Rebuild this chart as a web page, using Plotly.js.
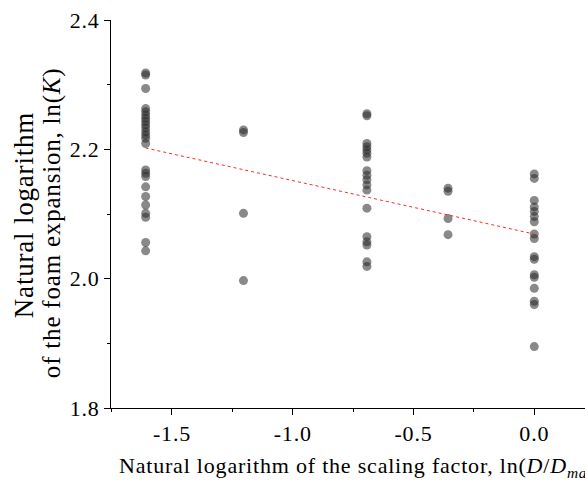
<!DOCTYPE html>
<html>
<head>
<meta charset="utf-8">
<script src="https://cdn.plot.ly/plotly-3.0.1.min.js"></script>
<style>
html,body{margin:0;padding:0;background:#fff;}
#chart{width:585px;height:488px;}
svg text{letter-spacing:0.8px;}
</style>
</head>
<body>
<div id="chart"></div>
<script>
// Scaling factor ln(D/Dmax) groups
const xGroups = [-1.609, -1.204, -0.693, -0.357, 0];
// ln(K) values per group
const yG1 = [2.318, 2.315, 2.294, 2.263, 2.258, 2.253, 2.248, 2.243, 2.238, 2.233, 2.227, 2.222, 2.217, 2.209,
             2.168, 2.163, 2.158, 2.142, 2.127, 2.114, 2.101, 2.095, 2.056, 2.043];
const yG2 = [2.230, 2.226, 2.101, 1.997];
const yG3 = [2.255, 2.252, 2.209, 2.204, 2.199, 2.194, 2.188, 2.167, 2.160, 2.153, 2.145, 2.137, 2.109,
             2.065, 2.057, 2.052, 2.026, 2.019];
const yG4 = [2.140, 2.135, 2.093, 2.068];
const yG5 = [2.162, 2.155, 2.121, 2.111, 2.104, 2.096, 2.088, 2.069, 2.062, 2.034, 2.030, 2.006, 2.002,
             1.985, 1.965, 1.960, 1.895];
// Linear fit line
const fitX = [-1.609, 0];
const fitY = [2.202, 2.069];
// Tick labels
const xTickVals = [-1.5, -1.0, -0.5, 0.0];
const xTickText = ['-1.5', '-1.0', '-0.5', '0.0'];
const yTickVals = [1.8, 2.0, 2.2, 2.4];
const yTickText = ['1.8', '2.0', '2.2', '2.4'];
// Titles
const xTitle = 'Natural logarithm of the scaling factor, ln(<i>D</i>/<i>D</i><sub><i>max</i></sub>)';
const yTitleLine1 = 'Natural logarithm';
const yTitleLine2 = 'of the foam expansion, ln(<i>K</i>)';

const groups = [yG1, yG2, yG3, yG4, yG5];
const px = [], py = [];
groups.forEach((g, i) => g.forEach(v => { px.push(xGroups[i]); py.push(v); }));

const fam = '"Liberation Serif", "Times New Roman", serif';
const font = {family: fam, size: 22, color: '#000'};
const yFont1 = {family: fam, size: 27, color: '#000'};
const yFont2 = {family: fam, size: 25, color: '#000'};

const data = [
  {x: px, y: py, type: 'scatter', mode: 'markers',
   marker: {size: 9, color: 'rgba(40,40,40,0.55)', line: {width: 0}}, hoverinfo: 'skip'},
  {x: fitX, y: fitY, type: 'scatter', mode: 'lines',
   line: {color: 'rgb(255,40,40)', width: 1, dash: 'dot'}, hoverinfo: 'skip'}
];

const layout = {
  width: 585, height: 488,
  margin: {l: 111, r: 0, t: 20, b: 80},
  paper_bgcolor: '#fff', plot_bgcolor: '#fff',
  showlegend: false,
  font: font,
  xaxis: {
    range: [-1.7525, 0.21], showgrid: false, zeroline: false,
    showline: true, linecolor: '#000', linewidth: 1,
    ticks: 'outside', ticklen: 6, tickwidth: 1, tickcolor: '#000',
    tickvals: xTickVals, ticktext: xTickText, tickfont: font,
    minor: {dtick: 0.25, tick0: 0, ticks: 'outside', ticklen: 3, tickcolor: '#000', showgrid: false}
  },
  yaxis: {
    range: [1.8, 2.4], showgrid: false, zeroline: false,
    showline: true, linecolor: '#000', linewidth: 1,
    ticks: 'outside', ticklen: 6, tickwidth: 1, tickcolor: '#000',
    tickvals: yTickVals, ticktext: yTickText, tickfont: font,
    minor: {dtick: 0.1, tick0: 0, ticks: 'outside', ticklen: 3, tickcolor: '#000', showgrid: false}
  },
  annotations: [{
    xref: 'paper', yref: 'paper', x: 0.0127, y: -0.152, xanchor: 'left', yanchor: 'middle',
    showarrow: false, font: font, text: xTitle
  }, {
    xref: 'paper', yref: 'paper', x: -0.1835, y: 0.497, xanchor: 'center', yanchor: 'middle',
    showarrow: false, font: yFont1, textangle: -90, text: yTitleLine1
  }, {
    xref: 'paper', yref: 'paper', x: -0.1245, y: 0.479, xanchor: 'center', yanchor: 'middle',
    showarrow: false, font: yFont2, textangle: -90, text: yTitleLine2
  }]
};

Plotly.newPlot('chart', data, layout, {displayModeBar: false, staticPlot: true});
</script>
</body>
</html>
